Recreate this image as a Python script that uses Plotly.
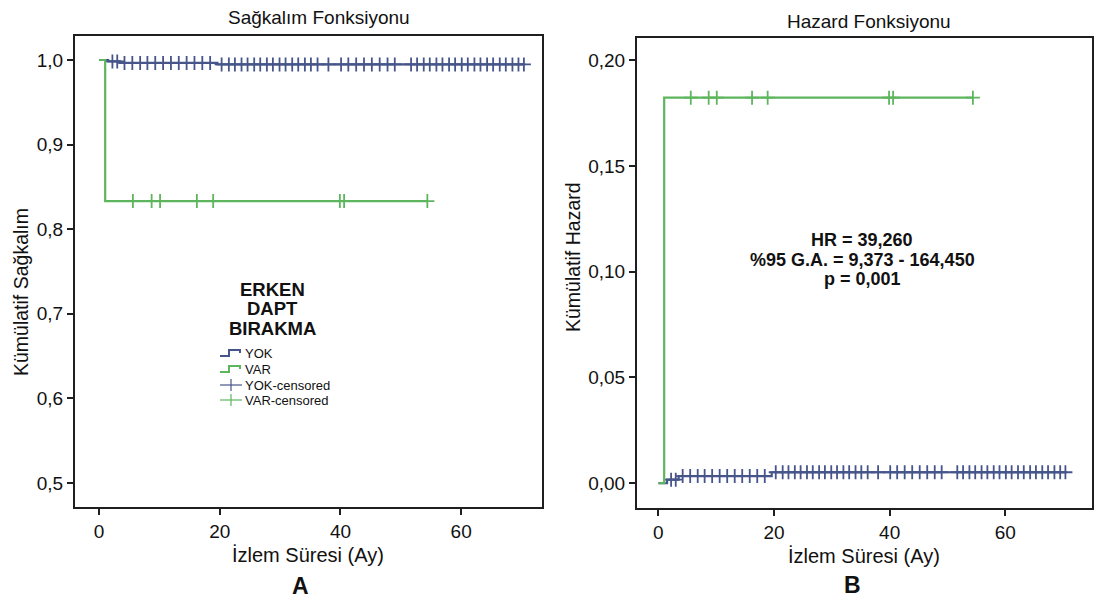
import plotly.graph_objects as go

# ---- data: Kaplan-Meier steps per group (time in months) ----
yok_event_t = [0.0, 1.5, 3.5, 19.6]
yok_surv = [1.0, 0.9983, 0.9966, 0.9948]
yok_haz = [0.0, 0.0017, 0.0034, 0.0052]
yok_end = 70.4
yok_cens_t = [2.2, 3.0, 4.2, 5.5, 6.8, 8.0, 9.3, 10.6, 11.9, 13.2, 14.5, 15.8,
              17.1, 18.4, 20.3, 21.5, 22.5, 23.6, 24.6, 25.7, 26.7, 27.8, 28.8,
              29.9, 30.9, 32.0, 33.0, 34.1, 35.1, 36.2, 38.0, 40.1, 41.3, 42.6,
              43.9, 45.2, 46.5, 47.8, 49.0, 51.7, 52.7, 53.8, 54.8, 55.9, 56.9,
              58.0, 59.0, 60.1, 61.1, 62.2, 63.2, 64.3, 65.3, 66.4, 67.4, 68.5,
              69.5, 70.4]

var_event_t = [0.0, 1.0]
var_surv = [1.0, 0.8333]
var_haz = [0.0, 0.1823]
var_end = 54.4
var_cens_t = [5.6, 8.7, 10.1, 16.2, 18.9, 39.9, 40.6, 54.4]

x_ticks = [0, 20, 40, 60]
groups = ["YOK", "VAR"]
stats_lines = ["HR = 39,260", "%95 G.A. = 9,373 - 164,450", "p = 0,001"]

C_YOK = "#46558a"
C_VAR = "#5db65d"
AX = "#1f1f1f"
TXT = "#111111"
FONT = "Liberation Sans, Arial, sans-serif"

W, H = 1094, 599


def px(x):
    return x / W


def py(y):
    return 1 - y / H


def step_at(times, values, t):
    v = values[0]
    for tt, vv in zip(times, values):
        if tt <= t:
            v = vv
    return v


def step_xy(times, values, end):
    return list(times) + [end], list(values) + [values[-1]]


fig = go.Figure()

series = [
    ("YOK", yok_event_t, yok_surv, yok_haz, yok_end, yok_cens_t, C_YOK),
    ("VAR", var_event_t, var_surv, var_haz, var_end, var_cens_t, C_VAR),
]

for ax_x, ax_y, kind in [("x", "y", "surv"), ("x2", "y2", "haz")]:
    for name, et, sv, hz, end, ct, col in series:
        vals = sv if kind == "surv" else hz
        xs, ys = step_xy(et, vals, end)
        fig.add_trace(go.Scatter(
            x=xs, y=ys, mode="lines", line=dict(color=col, width=2.2, shape="hv"),
            xaxis=ax_x, yaxis=ax_y, showlegend=False, name=name))
        fig.add_trace(go.Scatter(
            x=ct, y=[step_at(et, vals, t) for t in ct], mode="markers",
            marker=dict(symbol="cross-thin", size=10,
                        line=dict(color=col, width=1.8)),
            xaxis=ax_x, yaxis=ax_y, showlegend=False, name=name + "-censored"))

axis_common = dict(
    showline=True, mirror=True, linecolor=AX, linewidth=2,
    ticks="outside", ticklen=6, tickwidth=1.5, tickcolor=AX,
    showgrid=False, zeroline=False,
    tickfont=dict(family=FONT, size=19, color=TXT),
)

fig.update_layout(
    width=W, height=H,
    margin=dict(l=0, r=0, t=0, b=0),
    paper_bgcolor="white", plot_bgcolor="white",
    separators=",.",
    showlegend=False,
    font=dict(family=FONT, color=TXT),
    xaxis=dict(domain=[px(75), px(542)], range=[-4.0, 73.4],
               tickvals=x_ticks, anchor="y", **axis_common),
    yaxis=dict(domain=[py(507), py(36)], range=[0.4716, 1.0284],
               tickvals=[0.5, 0.6, 0.7, 0.8, 0.9, 1.0], tickformat=".1f",
               anchor="x", **axis_common),
    xaxis2=dict(domain=[px(637), px(1092)], range=[-3.7, 75.0],
                tickvals=x_ticks, anchor="y2", **axis_common),
    yaxis2=dict(domain=[py(508), py(38)], range=[-0.0117, 0.2105],
                tickvals=[0.0, 0.05, 0.10, 0.15, 0.20], tickformat=".2f",
                anchor="x2", **axis_common),
)

ann = []


def text(x, y, s, size, bold=False, angle=0):
    ann.append(dict(
        x=px(x), y=py(y), xref="paper", yref="paper", text=(f"<b>{s}</b>" if bold else s),
        showarrow=False, xanchor="center", yanchor="middle", textangle=angle,
        font=dict(family=FONT, size=size, color=TXT)))


text(319, 18, "Sağkalım Fonksiyonu", 19)
text(869, 22, "Hazard Fonksiyonu", 19)
text(308, 555, "İzlem Süresi (Ay)", 20)
text(864, 556, "İzlem Süresi (Ay)", 20)
text(300, 586, "A", 23, bold=True)
text(852, 585, "B", 23, bold=True)
text(21, 292, "Kümülatif Sağkalım", 19.5, angle=-90)
text(573, 257, "Kümülatif Hazard", 19.5, angle=-90)

# statistics box in the hazard panel
for i, s in enumerate(stats_lines):
    text(862, 240 + i * 19.5, s, 18, bold=True)

# legend block
for i, s in enumerate(["ERKEN", "DAPT", "BIRAKMA"]):
    text(272, 289 + i * 19.5, s, 18.5, bold=True)

leg_labels = [groups[0], groups[1], groups[0] + "-censored", groups[1] + "-censored"]
leg_cols = [C_YOK, C_VAR, C_YOK, C_VAR]
leg_y = [353, 369, 385, 400]
shapes = []
for lab, col, yy, k in zip(leg_labels, leg_cols, leg_y, range(4)):
    ann.append(dict(x=px(243), y=py(yy), xref="paper", yref="paper", text=lab,
                    showarrow=False, xanchor="left", yanchor="middle",
                    font=dict(family=FONT, size=13, color=TXT)))
    if k < 2:
        path = (f"M {px(220)},{py(yy + 3)} L {px(229)},{py(yy + 3)} "
                f"L {px(229)},{py(yy - 3)} L {px(240)},{py(yy - 3)} L {px(240)},{py(yy)}")
        shapes.append(dict(type="path", path=path, xref="paper", yref="paper",
                           line=dict(color=col, width=2)))
    else:
        shapes.append(dict(type="line", xref="paper", yref="paper",
                           x0=px(220), x1=px(242), y0=py(yy), y1=py(yy),
                           line=dict(color=col, width=1.2)))
        shapes.append(dict(type="line", xref="paper", yref="paper",
                           x0=px(231), x1=px(231), y0=py(yy - 6), y1=py(yy + 6),
                           line=dict(color=col, width=1.2)))

fig.update_layout(annotations=ann, shapes=shapes)
fig.write_html("out.html")
